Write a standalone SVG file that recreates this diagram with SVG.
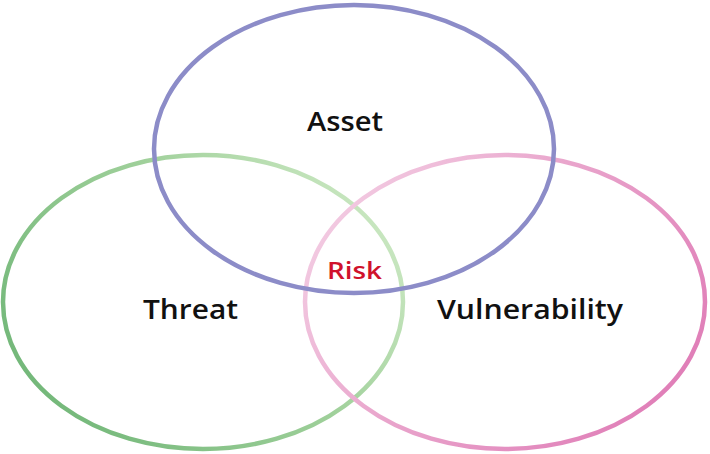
<svg xmlns="http://www.w3.org/2000/svg" width="710" height="454" viewBox="0 0 710 454">
<defs>
<linearGradient id="gGreen" gradientUnits="userSpaceOnUse" x1="60" y1="420" x2="380" y2="180">
<stop offset="0" stop-color="#74b87a"/>
<stop offset="0.55" stop-color="#9fd09a"/>
<stop offset="1" stop-color="#cfeac6"/>
</linearGradient>
<linearGradient id="gPink" gradientUnits="userSpaceOnUse" x1="330" y1="190" x2="650" y2="420">
<stop offset="0" stop-color="#f3cde3"/>
<stop offset="0.45" stop-color="#e9a5cc"/>
<stop offset="1" stop-color="#e07fb8"/>
</linearGradient>
<style>
.ring{fill:none;stroke-width:4.5}
.lbl{font-family:"Open Sans","Noto Sans",sans-serif;font-size:27px;font-weight:600;fill:#111;text-anchor:middle}
.risk{font-family:"Open Sans","Noto Sans",sans-serif;font-size:23px;font-weight:600;fill:#d0122c;text-anchor:middle}
</style>
</defs>
<rect width="710" height="454" fill="#ffffff"/>
<g id="threat">
<ellipse class="ring" cx="203" cy="302" rx="200" ry="147" stroke="url(#gGreen)"/>
<text class="lbl" x="190.5" y="319" textLength="95" lengthAdjust="spacingAndGlyphs">Threat</text>
</g>
<g id="vulnerability">
<ellipse class="ring" cx="505" cy="302" rx="200" ry="147" stroke="url(#gPink)"/>
<text class="lbl" x="530" y="319" textLength="186" lengthAdjust="spacingAndGlyphs">Vulnerability</text>
</g>
<g id="asset">
<ellipse class="ring" cx="354" cy="149" rx="200" ry="144" stroke="#8c8cc8"/>
<text class="lbl" x="345" y="131" textLength="76" lengthAdjust="spacingAndGlyphs">Asset</text>
</g>
<g id="risk">
<text class="risk" x="354.5" y="279" textLength="55" lengthAdjust="spacingAndGlyphs">Risk</text>
</g>
<g id="connectors"/>
</svg>
